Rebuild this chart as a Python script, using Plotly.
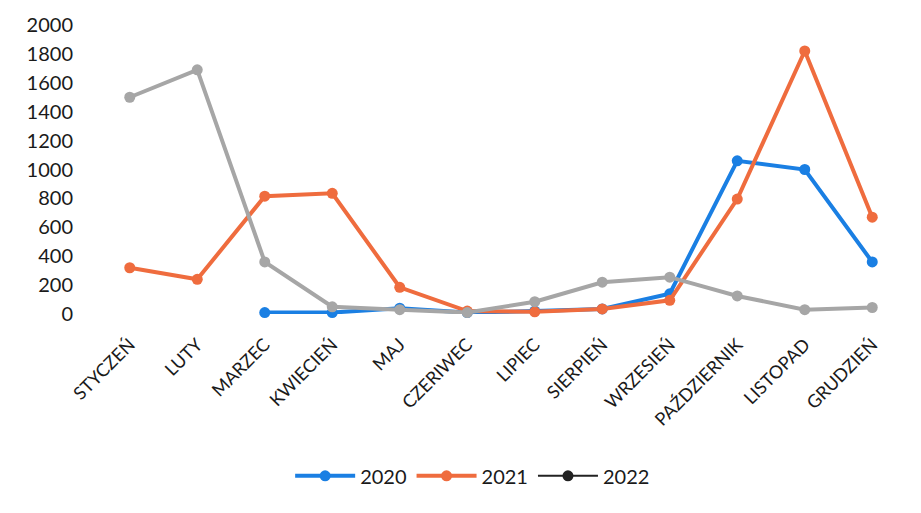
import plotly.graph_objects as go

months = ["STYCZEŃ", "LUTY", "MARZEC", "KWIECIEŃ", "MAJ", "CZERIWEC", "LIPIEC",
          "SIERPIEŃ", "WRZESIEŃ", "PAŹDZIERNIK", "LISTOPAD", "GRUDZIEŃ"]
y2020 = [None, None, 10, 10, 40, 10, 20, 35, 140, 1060, 1000, 360]
y2021 = [320, 240, 815, 835, 185, 20, 15, 35, 95, 795, 1820, 670]
y2022 = [1500, 1690, 360, 50, 30, 10, 85, 220, 255, 125, 30, 45]
y_ticks = [0, 200, 400, 600, 800, 1000, 1200, 1400, 1600, 1800, 2000]

BLUE = "#1a7fe3"
ORANGE = "#ef6c3e"
GRAY = "#a6a6a6"

fig = go.Figure()
fig.add_trace(go.Scatter(x=months, y=y2020, name="2020", mode="lines+markers",
                         line=dict(color=BLUE, width=4), marker=dict(size=11, color=BLUE),
                         cliponaxis=False))
fig.add_trace(go.Scatter(x=months, y=y2021, name="2021", mode="lines+markers",
                         line=dict(color=ORANGE, width=4), marker=dict(size=11, color=ORANGE),
                         cliponaxis=False))
fig.add_trace(go.Scatter(x=months, y=y2022, name="2022", mode="lines+markers",
                         line=dict(color=GRAY, width=4), marker=dict(size=11, color=GRAY),
                         cliponaxis=False, showlegend=False))
fig.add_trace(go.Scatter(x=[None], y=[None], name="2022", mode="lines+markers",
                         line=dict(color="#222222", width=2), marker=dict(size=11, color="#222222")))

fig.update_layout(
    width=921, height=513,
    margin=dict(l=88, r=23, t=17, b=207),
    paper_bgcolor="white", plot_bgcolor="white",
    font=dict(family="Lato, Open Sans, sans-serif", color="#1a1a1a", size=17),
    showlegend=True,
    legend=dict(orientation="h", x=0.465, xanchor="center", y=-0.56, yanchor="middle",
                font=dict(size=20), itemwidth=60, traceorder="normal"),
)
fig.update_xaxes(type="category", range=[-0.5, 11.5], tickangle=-45, showgrid=False,
                 showline=False, tickfont=dict(size=18), ticks="outside", ticklen=12,
                 tickcolor="rgba(0,0,0,0)", automargin=False)
fig.update_yaxes(range=[0, 2000], tickvals=y_ticks, showgrid=False, showline=False,
                 zeroline=False, tickfont=dict(size=20), ticks="", ticklabelstandoff=22,
                 automargin=False)

fig.write_html("out.html")
